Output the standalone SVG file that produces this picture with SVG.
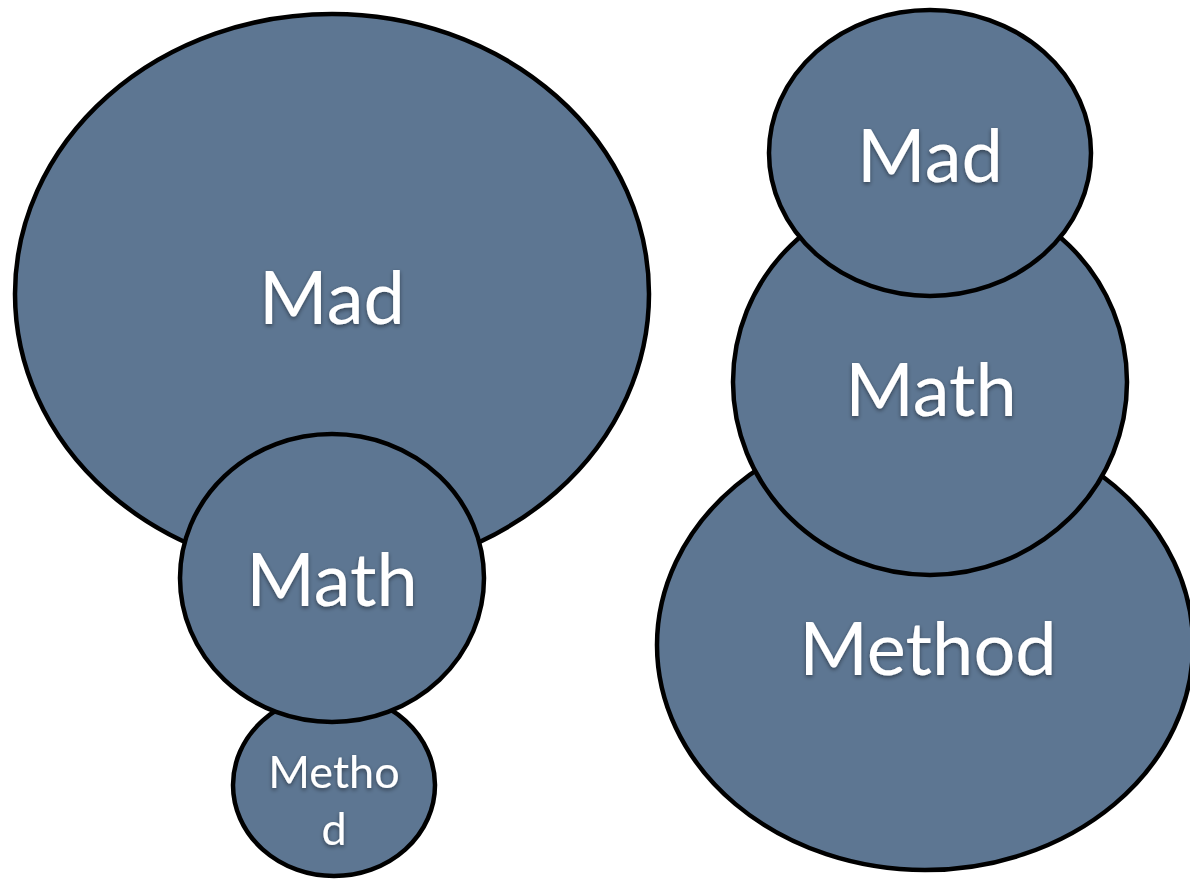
<svg xmlns="http://www.w3.org/2000/svg" width="1190" height="879" viewBox="0 0 1190 879">
<defs>
<filter id="sh" x="-10%" y="-10%" width="120%" height="130%">
<feDropShadow dx="0" dy="2" stdDeviation="2" flood-color="#000" flood-opacity="0.45"/>
</filter>
</defs>
<style>
.n{fill:#5d7692;stroke:#000;stroke-width:4.5}
.t{fill:#fff;font-family:Lato,"Open Sans","Liberation Sans",sans-serif;text-anchor:middle;filter:url(#sh)}
</style>
<rect width="1190" height="879" fill="#fff"/>
<g id="left-mad">
<ellipse class="n" cx="332" cy="294" rx="317" ry="280"/>
<text class="t" x="332" y="324" font-size="74">Mad</text>
</g>
<g id="left-method">
<ellipse class="n" cx="334" cy="785" rx="101" ry="91"/>
<text class="t" x="334" y="788" font-size="45">Metho</text>
<text class="t" x="334" y="845" font-size="45">d</text>
</g>
<g id="left-math">
<ellipse class="n" cx="332" cy="578" rx="152" ry="144"/>
<text class="t" x="332" y="606" font-size="74">Math</text>
</g>
<g id="right-method">
<ellipse class="n" cx="925" cy="645" rx="268" ry="225"/>
<text class="t" x="928" y="675" font-size="74">Method</text>
</g>
<g id="right-math">
<ellipse class="n" cx="930" cy="382" rx="197" ry="193"/>
<text class="t" x="931" y="416" font-size="74">Math</text>
</g>
<g id="right-mad">
<ellipse class="n" cx="930" cy="153" rx="161" ry="143"/>
<text class="t" x="930" y="182" font-size="74">Mad</text>
</g>
<g id="connectors"/>
</svg>
